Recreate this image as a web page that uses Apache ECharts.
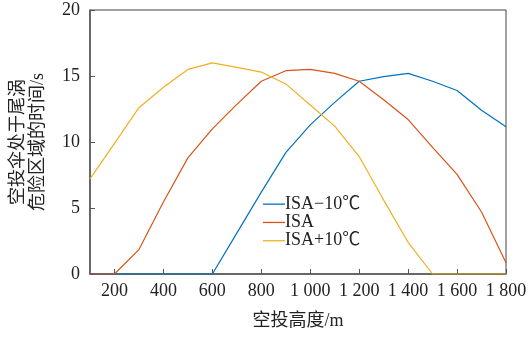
<!DOCTYPE html>
<html><head><meta charset="utf-8">
<script src="https://cdn.jsdelivr.net/npm/echarts@6/dist/echarts.min.js"></script>
<style>html,body{margin:0;padding:0;background:#fff}#c{width:530px;height:337px}</style>
</head><body><div id="c"></div>
<script>
const heights = [100,200,300,400,500,600,700,800,900,1000,1100,1200,1300,1400,1500,1600,1700,1800];
const seriesNames = ['ISA\u221210\u2103','ISA','ISA+10\u2103'];
const isaMinus10 = [0,0,0,0,0,0,3.1,6.2,9.2,11.3,13.0,14.6,14.95,15.2,14.6,13.9,12.4,11.15];
const isa = [0,0,1.85,5.45,8.8,11.0,12.85,14.6,15.4,15.5,15.2,14.6,13.2,11.7,9.6,7.55,4.7,0.85];
const isaPlus10 = [7.2,9.9,12.6,14.15,15.5,16.0,15.65,15.3,14.4,12.8,11.2,8.9,5.6,2.4,0,0,0,0];
const xTicks = [200,400,600,800,1000,1200,1400,1600,1800];
const yTicks = [0,5,10,15,20];
const colors = ['#0072BD','#D95319','#EDB120'];
const serif = '"Liberation Serif","Noto Sans CJK SC",serif';
function fmt(v){ return String(v).replace(/\B(?=(\d{3})+(?!\d))/g,' '); }
const chart = echarts.init(document.getElementById('c'));
const data = [isaMinus10, isa, isaPlus10];
chart.setOption({
  animation:false,
  grid:{left:90,right:24,top:10,bottom:63,show:true,borderColor:'#444',borderWidth:1,backgroundColor:'transparent'},
  legend:{orient:'vertical',left:263,top:195,padding:0,itemWidth:22,itemHeight:1.3,itemGap:0,icon:'rect',
    textStyle:{fontFamily:serif,fontSize:18,lineHeight:18.3,color:'#222',padding:[0,0,0,-5]},data:seriesNames},
  xAxis:{type:'value',min:100,max:1800,
    name:'空投高度/m',nameLocation:'middle',nameGap:38,
    nameTextStyle:{fontFamily:serif,fontSize:18,color:'#222'},
    axisLine:{lineStyle:{color:'#555',width:1.5}},
    axisTick:{inside:true,length:5,customValues:xTicks,lineStyle:{color:'#555'}},
    axisLabel:{customValues:xTicks,formatter:fmt,fontFamily:serif,fontSize:18,color:'#222',margin:8},
    splitLine:{show:false}},
  yAxis:{type:'value',min:0,max:20,interval:5,
    name:'空投伞处于尾涡\n危险区域的时间/s',nameLocation:'middle',nameGap:42,
    nameTextStyle:{fontFamily:serif,fontSize:18,color:'#222',lineHeight:20},
    axisLine:{show:true,lineStyle:{color:'#555',width:1.5}},
    axisTick:{show:true,inside:true,length:5,lineStyle:{color:'#555'}},
    axisLabel:{formatter:v=>yTicks.includes(v)?String(v):'',fontFamily:serif,fontSize:18,color:'#222',margin:10},
    splitLine:{show:false}},
  series: seriesNames.map((n,i)=>({name:n,type:'line',symbol:'none',
    data:heights.map((h,j)=>[h,data[i][j]]),
    lineStyle:{color:colors[i],width:1.2},itemStyle:{color:colors[i]}}))
});
</script></body></html>
